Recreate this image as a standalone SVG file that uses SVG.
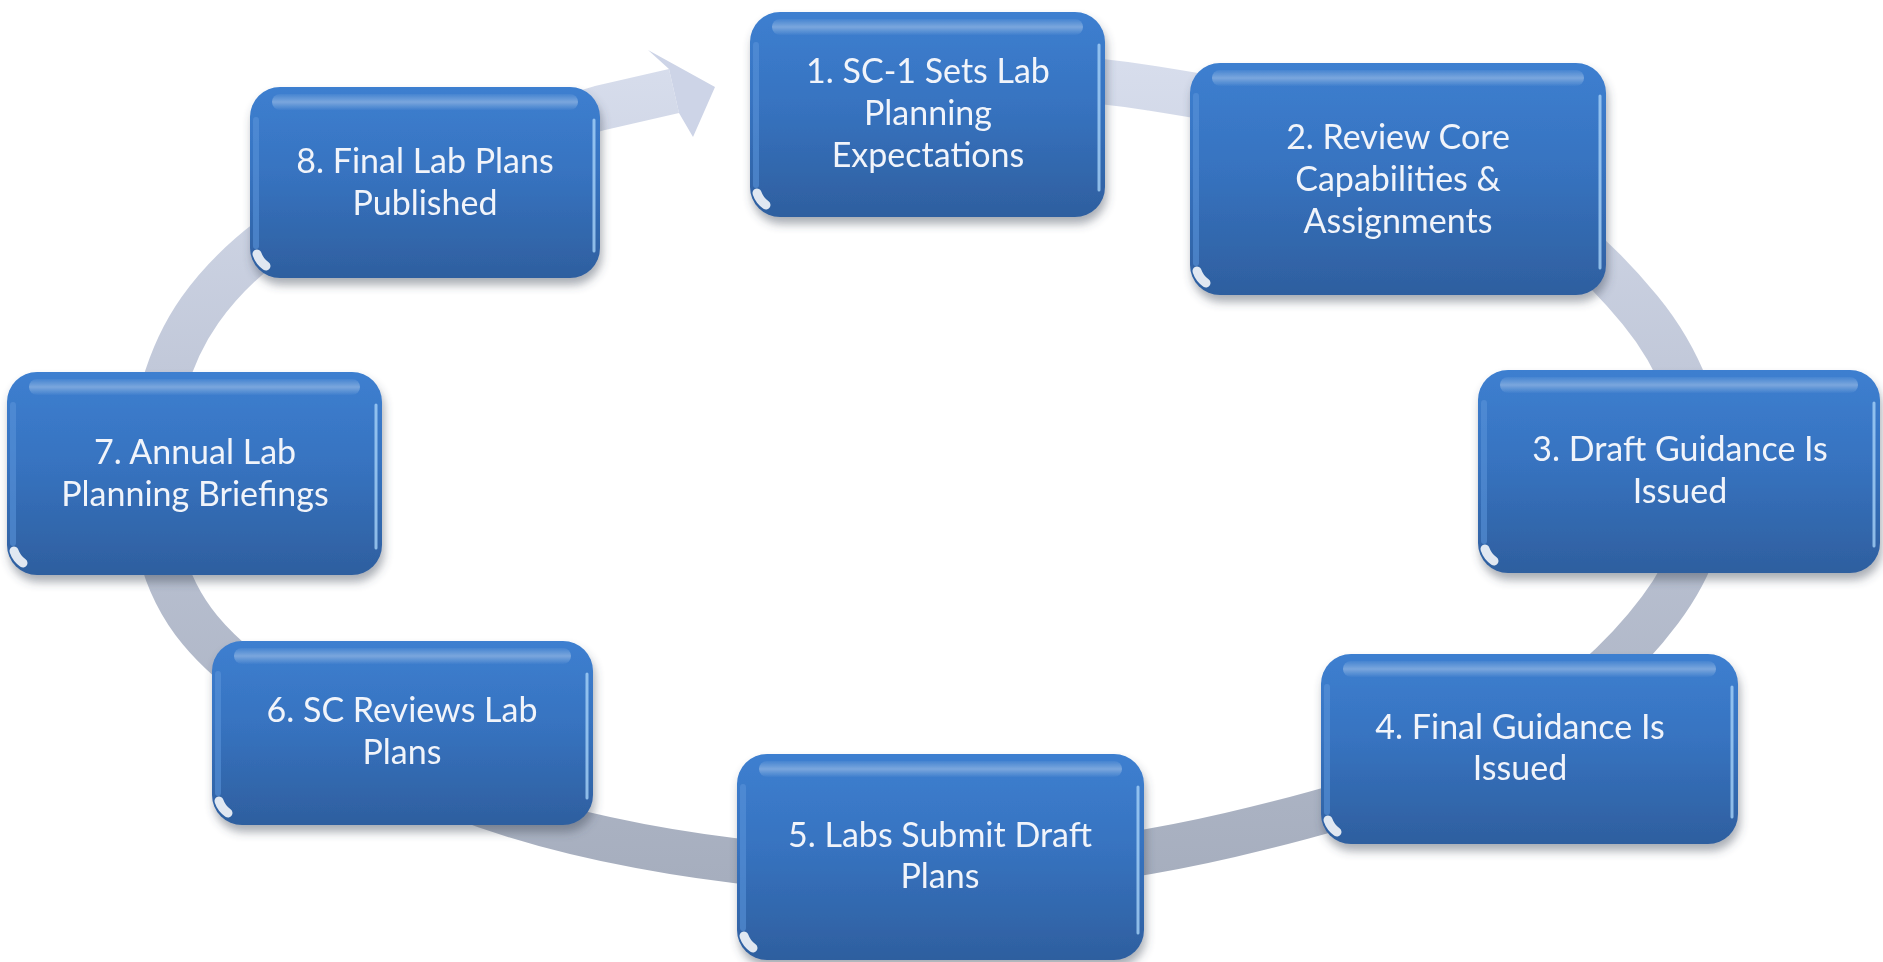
<svg xmlns="http://www.w3.org/2000/svg" width="1883" height="962" viewBox="0 0 1883 962">
<style>
.box{fill:url(#boxFill)}
.gloss{fill:url(#glossFill)}
.edge{fill:none;stroke:#a6d2f8;stroke-width:3;stroke-linecap:round;opacity:0.8}
.ledge{fill:none;stroke:#5a92d8;stroke-width:6;stroke-linecap:round;opacity:0.6}
.glint{fill:none;stroke:#ffffff;stroke-width:9;stroke-linecap:round;opacity:0.85}
.lbl{font-family:Lato,"Open Sans","Liberation Sans",sans-serif;font-size:34px;fill:#f1f4fa;text-anchor:middle}
.band{fill:none;stroke:url(#bandFill);stroke-width:45;stroke-linejoin:round}
</style>
<defs>
<linearGradient id="boxFill" x1="0" y1="0" x2="0" y2="1">
<stop offset="0" stop-color="#3d7fd0"/>
<stop offset="0.45" stop-color="#3773c0"/>
<stop offset="1" stop-color="#2e5f9f"/>
</linearGradient>
<linearGradient id="glossFill" x1="0" y1="0" x2="0" y2="1">
<stop offset="0" stop-color="#ffffff" stop-opacity="0.05"/>
<stop offset="0.5" stop-color="#ffffff" stop-opacity="0.32"/>
<stop offset="1" stop-color="#ffffff" stop-opacity="0.02"/>
</linearGradient>
<linearGradient id="bandFill" gradientUnits="userSpaceOnUse" x1="0" y1="50" x2="0" y2="900">
<stop offset="0" stop-color="#d8deed"/>
<stop offset="0.4" stop-color="#c0c7d8"/>
<stop offset="1" stop-color="#a5adbd"/>
</linearGradient>
<filter id="shadow" x="-10%" y="-10%" width="120%" height="130%">
<feGaussianBlur in="SourceAlpha" stdDeviation="5"/>
<feOffset dx="2" dy="7" result="b"/>
<feFlood flood-color="#404a5a" flood-opacity="0.45"/>
<feComposite in2="b" operator="in"/>
<feMerge><feMergeNode/><feMergeNode in="SourceGraphic"/></feMerge>
</filter>
</defs>
<rect width="1883" height="962" fill="#ffffff"/>

<g id="connectors">
<path class="band" d="M 880 68 C 955 71.7 1055 72.7 1150 88 C 1245 103.3 1368.3 123 1450 160 C 1531.7 197 1597.5 258.3 1640 310 C 1682.5 361.7 1701.7 420 1705 470 C 1708.3 520 1694.2 564.2 1660 610 C 1625.8 655.8 1571.7 707.5 1500 745 C 1428.3 782.5 1323.3 813.3 1230 835 C 1136.7 856.7 1038.3 870 940 872 C 841.7 874 730 863 640 846 C 550 829 473.3 806.3 400 770 C 326.7 733.7 241.3 680 200 630 C 158.7 580 152 523.3 152 470 C 152 416.7 167 356.7 200 310 C 233 263.3 283.3 223.7 350 190 C 416.7 156.3 545 124.7 600 108 L 674 91"/>
<polygon points="669,69 648,50 715,87 693,137 679,113" fill="#cdd4e7"/>
</g>

<g id="node1" filter="url(#shadow)">
<rect class="box" x="750" y="12" width="355" height="205" rx="30"/>
<rect class="gloss" x="772" y="19" width="311" height="16" rx="8"/>
<path class="ledge" d="M 756 45 L 756 185"/>
<path class="edge" d="M 1099 45 L 1099 190"/>
<path class="glint" d="M 757 193 A 24 24 0 0 0 766 205"/>
<text class="lbl" x="928" y="83">1. SC-1 Sets Lab</text>
<text class="lbl" x="928" y="125">Planning</text>
<text class="lbl" x="928" y="167">Expectations</text>
</g>

<g id="node2" filter="url(#shadow)">
<rect class="box" x="1190" y="63" width="416" height="232" rx="30"/>
<rect class="gloss" x="1212" y="70" width="372" height="16" rx="8"/>
<path class="ledge" d="M 1196 96 L 1196 263"/>
<path class="edge" d="M 1600 96 L 1600 268"/>
<path class="glint" d="M 1197 271 A 24 24 0 0 0 1206 283"/>
<text class="lbl" x="1398" y="149">2. Review Core</text>
<text class="lbl" x="1398" y="191">Capabilities &amp;</text>
<text class="lbl" x="1398" y="233">Assignments</text>
</g>

<g id="node3" filter="url(#shadow)">
<rect class="box" x="1478" y="370" width="402" height="203" rx="30"/>
<rect class="gloss" x="1500" y="377" width="358" height="16" rx="8"/>
<path class="ledge" d="M 1484 403 L 1484 541"/>
<path class="edge" d="M 1874 403 L 1874 546"/>
<path class="glint" d="M 1485 549 A 24 24 0 0 0 1494 561"/>
<text class="lbl" x="1680" y="461">3. Draft Guidance Is</text>
<text class="lbl" x="1680" y="503">Issued</text>
</g>

<g id="node4" filter="url(#shadow)">
<rect class="box" x="1321" y="654" width="417" height="190" rx="30"/>
<rect class="gloss" x="1343" y="661" width="373" height="16" rx="8"/>
<path class="ledge" d="M 1327 687 L 1327 812"/>
<path class="edge" d="M 1732 687 L 1732 817"/>
<path class="glint" d="M 1328 820 A 24 24 0 0 0 1337 832"/>
<text class="lbl" x="1520" y="739">4. Final Guidance Is</text>
<text class="lbl" x="1520" y="780">Issued</text>
</g>

<g id="node5" filter="url(#shadow)">
<rect class="box" x="737" y="754" width="407" height="206" rx="30"/>
<rect class="gloss" x="759" y="761" width="363" height="16" rx="8"/>
<path class="ledge" d="M 743 787 L 743 928"/>
<path class="edge" d="M 1138 787 L 1138 933"/>
<path class="glint" d="M 744 936 A 24 24 0 0 0 753 948"/>
<text class="lbl" x="940" y="847">5. Labs Submit Draft</text>
<text class="lbl" x="940" y="888">Plans</text>
</g>

<g id="node6" filter="url(#shadow)">
<rect class="box" x="212" y="641" width="381" height="184" rx="30"/>
<rect class="gloss" x="234" y="648" width="337" height="16" rx="8"/>
<path class="ledge" d="M 218 674 L 218 793"/>
<path class="edge" d="M 587 674 L 587 798"/>
<path class="glint" d="M 219 801 A 24 24 0 0 0 228 813"/>
<text class="lbl" x="402" y="722">6. SC Reviews Lab</text>
<text class="lbl" x="402" y="764">Plans</text>
</g>

<g id="node7" filter="url(#shadow)">
<rect class="box" x="7" y="372" width="375" height="203" rx="30"/>
<rect class="gloss" x="29" y="379" width="331" height="16" rx="8"/>
<path class="ledge" d="M 13 405 L 13 543"/>
<path class="edge" d="M 376 405 L 376 548"/>
<path class="glint" d="M 14 551 A 24 24 0 0 0 23 563"/>
<text class="lbl" x="195" y="464">7. Annual Lab</text>
<text class="lbl" x="195" y="506">Planning Briefings</text>
</g>

<g id="node8" filter="url(#shadow)">
<rect class="box" x="250" y="87" width="350" height="191" rx="30"/>
<rect class="gloss" x="272" y="94" width="306" height="16" rx="8"/>
<path class="ledge" d="M 256 120 L 256 246"/>
<path class="edge" d="M 594 120 L 594 251"/>
<path class="glint" d="M 257 254 A 24 24 0 0 0 266 266"/>
<text class="lbl" x="425" y="173">8. Final Lab Plans</text>
<text class="lbl" x="425" y="215">Published</text>
</g>
</svg>
